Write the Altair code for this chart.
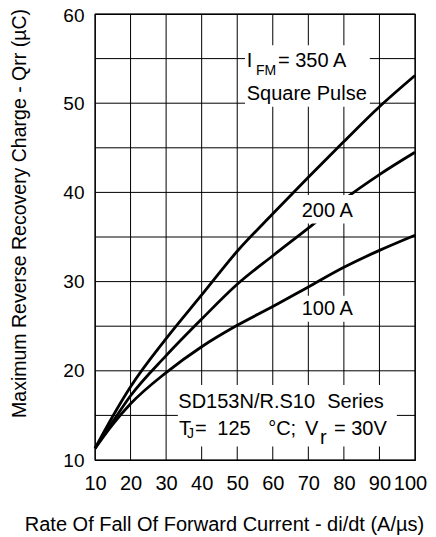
import altair as alt
import pandas as pd

# Rate of fall of forward current di/dt (A/us)
didt = [10, 15, 20, 30, 40, 50, 60, 70, 80, 90, 100]
# Qrr (uC) for each forward current
q_350 = [11.3, 14.9, 18.2, 23.6, 28.5, 33.4, 37.6, 41.7, 45.7, 49.6, 53.1]
q_200 = [11.3, 14.3, 17.2, 21.7, 25.8, 29.7, 32.9, 36.0, 39.2, 42.0, 44.5]
q_100 = [11.3, 14.0, 16.3, 19.8, 22.7, 25.1, 27.2, 29.4, 31.6, 33.5, 35.2]

x_ticks = [10, 20, 30, 40, 50, 60, 70, 80, 90, 100]
y_ticks = [10, 20, 30, 40, 50, 60]
y_grid = [10, 15, 20, 25, 30, 35, 40, 45, 50, 55, 60]

rows = []
for name, ser in [("350", q_350), ("200", q_200), ("100", q_100)]:
    for xv, yv in zip(didt, ser):
        rows.append({"x": xv, "q": yv, "s": name})
curves = pd.DataFrame(rows)

# white label boxes (data coordinates)
boxes = pd.DataFrame({
    "x1": [52.2, 67.1, 67.1, 33.3],
    "x2": [87.3, 83.4, 83.4, 94.9],
    "y1": [56.5, 39.7, 28.4, 18.4],
    "y2": [49.6, 36.5, 25.5, 11.5],
})

# annotation text pieces (data coordinates)
ann_text = ["I", "FM", "= 350 A", "Square Pulse", "200 A", "100 A",
            "SD153N/R.S10", "Series",
            "T", "J", "=", "125", "°C;", "V", "r", "= 30V"]
ann_x = [52.67, 55.28, 61.47, 52.67, 68.13, 68.13,
         33.43, 75.3,
         33.63, 35.88, 38.13, 44.4, 58.7, 69.06, 73.28, 77.22]
ann_y = [54.09, 53.16, 54.09, 50.36, 37.27, 26.25,
         15.79, 15.79,
         12.80, 12.47, 12.80, 12.80, 12.80, 12.80, 11.79, 12.80]
ann_size = [20, 14, 20, 20, 20, 20,
            20, 20,
            20, 14, 20, 20, 20, 20, 20, 20]
ann = pd.DataFrame({"x": ann_x, "y": ann_y, "t": ann_text, "size": ann_size})

xgrid_df = pd.DataFrame({"gx": x_ticks})
ygrid_df = pd.DataFrame({"gy": y_grid})

FONT = "Liberation Sans"

xscale = alt.Scale(domain=[10, 100], nice=False, zero=False)
yscale = alt.Scale(domain=[10, 60], nice=False, zero=False)

xaxis = alt.Axis(
    values=x_ticks, title="Rate Of Fall Of Forward Current - di/dt (A/µs)",
    grid=False, ticks=False, domain=False,
    labelFont=FONT, labelColor="black",
    labelFontSize=20, labelPadding=13,
    labelOffset={"condition": {"test": "datum.value === 100", "value": -5}, "value": 0},
    labelFlush=False, labelOverlap=False,
    titleFont=FONT, titleColor="black", titleFontWeight="normal",
    titleFontSize=20,
    titleX=129, titleY=70, titleAlign="center", titleBaseline="alphabetic",
)
yaxis = alt.Axis(
    values=y_ticks,
    title="Maximum Reverse Recovery Charge - Qrr (µC)",
    grid=False, ticks=False, domain=False,
    labelFont=FONT, labelColor="black",
    labelFontSize=19, labelPadding=11,
    labelOffset={"condition": {"test": "datum.value === 60", "value": 1.5}, "value": 0},
    labelFlush=False, labelOverlap=False,
    titleFont=FONT, titleColor="black", titleFontWeight="normal",
    titleFontSize=19.5,
    titleX=-70, titleY=199, titleAlign="center", titleBaseline="alphabetic", titleAngle=270,
)

vgrid = alt.Chart(xgrid_df).mark_rule(color="black", strokeWidth=1).encode(
    x=alt.X("gx:Q", scale=xscale, axis=xaxis),
)
hgrid = alt.Chart(ygrid_df).mark_rule(color="black", strokeWidth=1).encode(
    y=alt.Y("gy:Q", scale=yscale, axis=yaxis),
)

lines = alt.Chart(curves).mark_line(color="black", strokeWidth=2.8, interpolate="monotone").encode(
    x=alt.X("x:Q", scale=xscale, axis=xaxis),
    y=alt.Y("q:Q", scale=yscale, axis=yaxis),
    detail="s:N",
)

rects = alt.Chart(boxes).mark_rect(fill="white").encode(
    x=alt.X("x1:Q", scale=xscale, axis=xaxis), x2="x2:Q",
    y=alt.Y("y1:Q", scale=yscale, axis=yaxis), y2="y2:Q",
)

texts = alt.Chart(ann).mark_text(align="left", baseline="alphabetic", font=FONT, color="black").encode(
    x=alt.X("x:Q", scale=xscale, axis=xaxis),
    y=alt.Y("y:Q", scale=yscale, axis=yaxis),
    text="t:N",
    size=alt.Size("size:Q", scale=None, legend=None),
)

chart = alt.layer(vgrid, hgrid, lines, rects, texts).properties(
    width=320, height=446,
    autosize=alt.AutoSizeParams(type="none"),
    padding={"left": 87, "top": 6, "right": 13, "bottom": 77},
    background="white",
).configure_view(
    stroke="black", strokeWidth=1.2
)

chart.save("out.html", embed_options={"renderer": "svg", "actions": False})
